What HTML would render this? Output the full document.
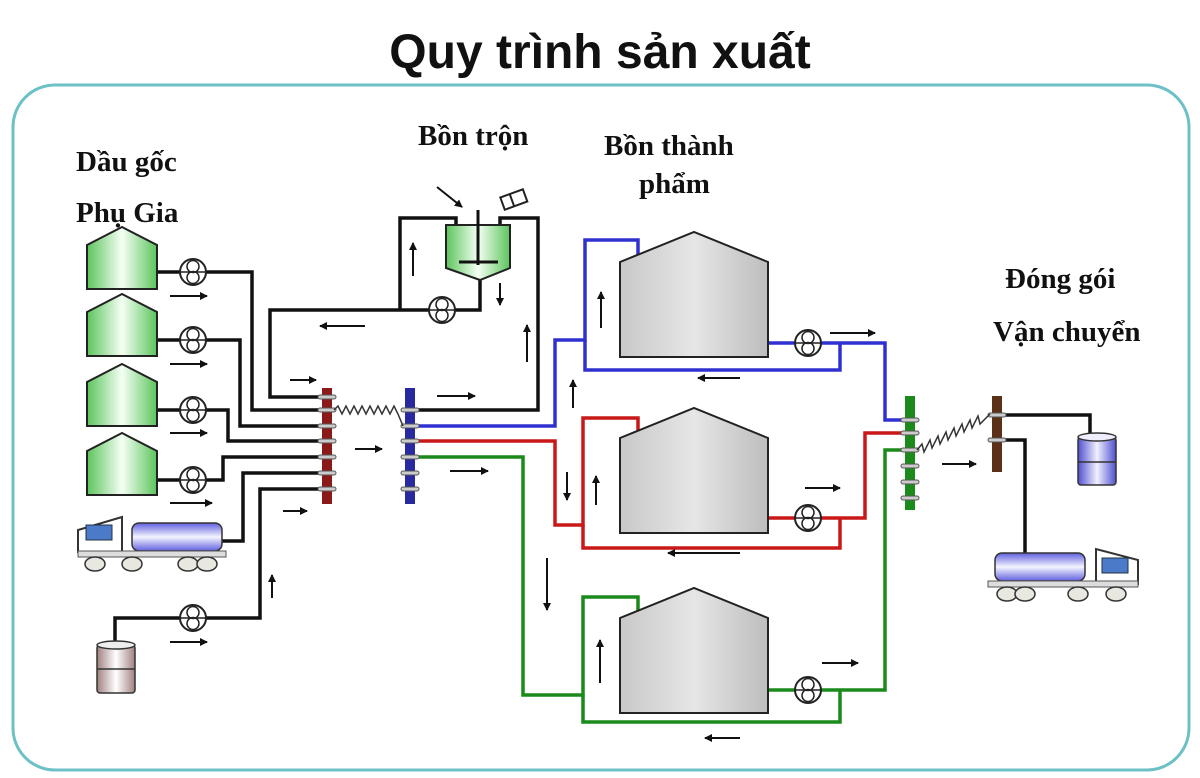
<!DOCTYPE html>
<html><head><meta charset="utf-8"><style>
html,body{margin:0;padding:0;background:#fff;}
svg{display:block;}
.t{font-family:"Liberation Serif",serif;font-weight:bold;font-size:29px;fill:#111;}
</style></head><body>
<svg width="1200" height="778" viewBox="0 0 1200 778" xmlns="http://www.w3.org/2000/svg">
<defs>
<linearGradient id="gg" x1="0" x2="1"><stop offset="0" stop-color="#5cc45c"/><stop offset="0.5" stop-color="#f4fff4"/><stop offset="1" stop-color="#5cc45c"/></linearGradient>
<linearGradient id="gr" x1="0" x2="1"><stop offset="0" stop-color="#c8c8c8"/><stop offset="0.5" stop-color="#e6e6e6"/><stop offset="1" stop-color="#bdbdbd"/></linearGradient>
<linearGradient id="bl" x1="0" y1="0" x2="0" y2="1"><stop offset="0" stop-color="#6060e0"/><stop offset="0.5" stop-color="#f4f4ff"/><stop offset="1" stop-color="#6060e0"/></linearGradient>
<linearGradient id="blx" x1="0" x2="1"><stop offset="0" stop-color="#5050d0"/><stop offset="0.5" stop-color="#f0f0ff"/><stop offset="1" stop-color="#5050d0"/></linearGradient>
<linearGradient id="br" x1="0" x2="1"><stop offset="0" stop-color="#a08080"/><stop offset="0.5" stop-color="#fff"/><stop offset="1" stop-color="#a08080"/></linearGradient>
<marker id="ah" markerWidth="8" markerHeight="8" refX="7" refY="4" orient="auto" markerUnits="userSpaceOnUse"><path d="M0,0 L8,4 L0,8 z" fill="#111"/></marker>
<g id="pump"><circle cx="0" cy="0" r="13" fill="#fff" stroke="#222" stroke-width="2"/><line x1="-13" y1="0" x2="13" y2="0" stroke="#222" stroke-width="1.5"/><circle cx="0" cy="-5.5" r="6" fill="none" stroke="#222" stroke-width="1.5"/><circle cx="0" cy="5.5" r="6" fill="none" stroke="#222" stroke-width="1.5"/></g>
<g id="silo"><path d="M0,18 L35,0 L70,18 L70,62 L0,62 Z" fill="url(#gg)" stroke="#222" stroke-width="2"/></g>
<g id="tank"><path d="M0,30 L74,0 L148,30 L148,125 L0,125 Z" fill="url(#gr)" stroke="#222" stroke-width="2"/></g>
</defs>

<rect x="13" y="85" width="1176" height="685" rx="42" fill="none" stroke="#6cc0c6" stroke-width="3"/>
<text x="600" y="68" text-anchor="middle" style="font-family:'Liberation Sans',sans-serif;font-weight:bold;font-size:48px" fill="#111">Quy trình sản xuất</text>

<text class="t" x="76" y="171">Dầu gốc</text>
<text class="t" x="76" y="222">Phụ Gia</text>
<text class="t" x="418" y="145">Bồn trộn</text>
<text class="t" x="604" y="155">Bồn thành</text>
<text class="t" x="639" y="193">phẩm</text>
<text class="t" x="1005" y="288">Đóng gói</text>
<text class="t" x="993" y="341">Vận chuyển</text>

<g fill="none" stroke="#111" stroke-width="3.5">
<path d="M155,272 L252,272 L252,410 L322,410"/>
<path d="M155,340 L240,340 L240,426 L322,426"/>
<path d="M155,410 L228,410 L228,441 L322,441"/>
<path d="M155,480 L223,480 L223,457 L322,457"/>
<path d="M222,541 L243,541 L243,473 L322,473"/>
<path d="M115,643 L115,618 L260,618 L260,489 L322,489"/>
<path d="M322,397 L270,397 L270,310 L480,310 L480,280"/>
<path d="M400,310 L400,218 L456,218 L456,228"/>
<path d="M500,228 L500,218 L538,218 L538,410 L415,410"/>
<path d="M1002,415 L1090,415 L1090,437"/>
<path d="M1002,440 L1025,440 L1025,553"/>
</g>
<g fill="none" stroke="#3030d0" stroke-width="3.5">
<path d="M415,426 L555,426 L555,340 L585,340 L585,240 L638,240 L638,258"/>
<path d="M585,340 L585,370 L840,370 L840,343"/>
<path d="M768,343 L885,343 L885,420 L905,420"/>
</g>
<g fill="none" stroke="#c81818" stroke-width="3.5">
<path d="M415,441 L555,441 L555,525 L583,525 L583,418 L638,418 L638,435"/>
<path d="M583,525 L583,548 L840,548 L840,518"/>
<path d="M768,518 L865,518 L865,433 L905,433"/>
</g>
<g fill="none" stroke="#1a8a1a" stroke-width="3.5">
<path d="M415,457 L523,457 L523,695 L583,695 L583,597 L638,597 L638,612"/>
<path d="M583,695 L583,722 L840,722 L840,690"/>
<path d="M768,690 L885,690 L885,450 L905,450"/>
</g>

<use href="#silo" x="87" y="227"/>
<use href="#silo" x="87" y="294"/>
<use href="#silo" x="87" y="364"/>
<use href="#silo" x="87" y="433"/>
<use href="#pump" x="193" y="272"/>
<use href="#pump" x="193" y="340"/>
<use href="#pump" x="193" y="410"/>
<use href="#pump" x="193" y="480"/>
<use href="#pump" x="193" y="618"/>
<use href="#pump" x="442" y="310"/>
<use href="#pump" x="808" y="343"/>
<use href="#pump" x="808" y="518"/>
<use href="#pump" x="808" y="690"/>

<use href="#tank" x="620" y="232"/>
<use href="#tank" x="620" y="408"/>
<use href="#tank" x="620" y="588"/>

<path d="M446,225 L510,225 L510,268 L480,280 L446,268 Z" fill="url(#gg)" stroke="#222" stroke-width="2"/>
<line x1="478" y1="210" x2="478" y2="265" stroke="#111" stroke-width="3"/>
<line x1="459" y1="262" x2="498" y2="262" stroke="#111" stroke-width="3"/>
<line x1="437" y1="187" x2="462" y2="207" stroke="#111" stroke-width="2" marker-end="url(#ah)"/>
<g transform="rotate(-20 514 200)"><rect x="502" y="193" width="24" height="13" fill="#fff" stroke="#222" stroke-width="2"/><line x1="512" y1="193" x2="512" y2="206" stroke="#222" stroke-width="2"/></g>

<g>
<rect x="322" y="388" width="10" height="116" fill="#8a1a1a"/>
<rect x="405" y="388" width="10" height="116" fill="#2828a0"/>
<rect x="905" y="396" width="10" height="114" fill="#1a8a1a"/>
<rect x="992" y="396" width="10" height="76" fill="#5a3018"/>
<g fill="#ccc" stroke="#555" stroke-width="1">
<rect x="318" y="395" width="18" height="4" rx="2"/><rect x="318" y="408" width="18" height="4" rx="2"/><rect x="318" y="424" width="18" height="4" rx="2"/><rect x="318" y="439" width="18" height="4" rx="2"/><rect x="318" y="455" width="18" height="4" rx="2"/><rect x="318" y="471" width="18" height="4" rx="2"/><rect x="318" y="487" width="18" height="4" rx="2"/>
<rect x="401" y="408" width="18" height="4" rx="2"/><rect x="401" y="424" width="18" height="4" rx="2"/><rect x="401" y="439" width="18" height="4" rx="2"/><rect x="401" y="455" width="18" height="4" rx="2"/><rect x="401" y="471" width="18" height="4" rx="2"/><rect x="401" y="487" width="18" height="4" rx="2"/>
<rect x="901" y="418" width="18" height="4" rx="2"/><rect x="901" y="431" width="18" height="4" rx="2"/><rect x="901" y="448" width="18" height="4" rx="2"/><rect x="901" y="464" width="18" height="4" rx="2"/><rect x="901" y="480" width="18" height="4" rx="2"/><rect x="901" y="496" width="18" height="4" rx="2"/>
<rect x="988" y="413" width="18" height="4" rx="2"/><rect x="988" y="438" width="18" height="4" rx="2"/>
</g>
</g>
<polyline fill="none" stroke="#333" stroke-width="1.5" points="334,410 338,406 342,414 346,406 350,414 354,406 358,414 362,406 366,414 370,406 374,414 378,406 382,414 386,406 390,414 394,406 398,414 403,426"/>
<polyline fill="none" stroke="#333" stroke-width="1.5" points="917,450 922,444 924,452 930,440 932,448 938,436 940,444 946,432 948,440 954,428 956,436 962,424 964,432 970,420 972,428 978,416 980,424 990,414"/>

<g>
<path d="M78,530 L78,552 L122,552 L122,517 Z" fill="#fff" stroke="#333" stroke-width="2"/>
<rect x="86" y="525" width="26" height="15" fill="#4a7ac8" stroke="#234" stroke-width="1"/>
<rect x="132" y="523" width="90" height="28" rx="7" fill="url(#bl)" stroke="#333" stroke-width="1.5"/>
<rect x="78" y="551" width="148" height="6" fill="#ddd" stroke="#555" stroke-width="1"/>
<g fill="#e8e8e0" stroke="#333" stroke-width="1.5"><ellipse cx="95" cy="564" rx="10" ry="7"/><ellipse cx="132" cy="564" rx="10" ry="7"/><ellipse cx="188" cy="564" rx="10" ry="7"/><ellipse cx="207" cy="564" rx="10" ry="7"/></g>
</g>
<g>
<path d="M1138,560 L1138,584 L1096,584 L1096,549 Z" fill="#fff" stroke="#333" stroke-width="2"/>
<rect x="1102" y="558" width="26" height="15" fill="#4a7ac8" stroke="#234" stroke-width="1"/>
<rect x="995" y="553" width="90" height="28" rx="7" fill="url(#bl)" stroke="#333" stroke-width="1.5"/>
<rect x="988" y="581" width="150" height="6" fill="#ddd" stroke="#555" stroke-width="1"/>
<g fill="#e8e8e0" stroke="#333" stroke-width="1.5"><ellipse cx="1007" cy="594" rx="10" ry="7"/><ellipse cx="1025" cy="594" rx="10" ry="7"/><ellipse cx="1078" cy="594" rx="10" ry="7"/><ellipse cx="1116" cy="594" rx="10" ry="7"/></g>
</g>
<g stroke="#333" stroke-width="1.5">
<rect x="97" y="645" width="38" height="48" rx="3" fill="url(#br)"/><ellipse cx="116" cy="645" rx="19" ry="4" fill="#eee"/><line x1="97" y1="669" x2="135" y2="669"/>
<rect x="1078" y="437" width="38" height="48" rx="3" fill="url(#blx)"/><ellipse cx="1097" cy="437" rx="19" ry="4" fill="#eef"/><line x1="1078" y1="462" x2="1116" y2="462"/>
</g>

<g stroke="#111" stroke-width="2" marker-end="url(#ah)">
<line x1="170" y1="296" x2="207" y2="296"/>
<line x1="170" y1="364" x2="207" y2="364"/>
<line x1="170" y1="433" x2="207" y2="433"/>
<line x1="170" y1="503" x2="212" y2="503"/>
<line x1="170" y1="642" x2="207" y2="642"/>
<line x1="290" y1="380" x2="316" y2="380"/>
<line x1="283" y1="511" x2="307" y2="511"/>
<line x1="272" y1="598" x2="272" y2="575"/>
<line x1="355" y1="449" x2="382" y2="449"/>
<line x1="365" y1="326" x2="320" y2="326"/>
<line x1="413" y1="276" x2="413" y2="243"/>
<line x1="500" y1="283" x2="500" y2="305"/>
<line x1="527" y1="362" x2="527" y2="325"/>
<line x1="437" y1="396" x2="475" y2="396"/>
<line x1="450" y1="471" x2="488" y2="471"/>
<line x1="573" y1="408" x2="573" y2="380"/>
<line x1="601" y1="328" x2="601" y2="292"/>
<line x1="567" y1="472" x2="567" y2="500"/>
<line x1="596" y1="505" x2="596" y2="476"/>
<line x1="547" y1="558" x2="547" y2="610"/>
<line x1="600" y1="683" x2="600" y2="640"/>
<line x1="740" y1="378" x2="698" y2="378"/>
<line x1="740" y1="553" x2="668" y2="553"/>
<line x1="740" y1="738" x2="705" y2="738"/>
<line x1="830" y1="333" x2="875" y2="333"/>
<line x1="805" y1="488" x2="840" y2="488"/>
<line x1="822" y1="663" x2="858" y2="663"/>
<line x1="942" y1="464" x2="976" y2="464"/>
</g>
</svg>
</body></html>
